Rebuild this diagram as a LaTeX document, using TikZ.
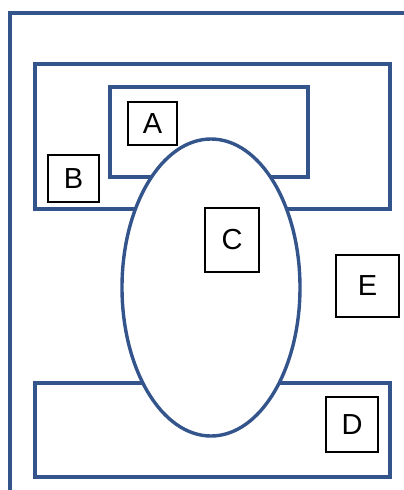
\documentclass[tikz,border=0pt]{standalone}
\usepackage{fontspec}
\setmainfont{Liberation Sans}
\definecolor{frameblue}{RGB}{52,84,140}
\begin{document}
\begin{tikzpicture}[x=1pt,y=-1pt,
  region/.style={draw=frameblue,line width=3.4pt},
  tag/.style={draw=black,line width=1.1pt,fill=white,inner sep=0pt,font=\fontsize{29}{29}\selectfont}]
\useasboundingbox (0,0) rectangle (404,490);
% frame and the three bands
\draw[region] (404,13) -- (10,13) -- (10,490);
\draw[region] (35,64) rectangle (390,209);
\draw[region] (110,87) rectangle (308,177);
\draw[region] (35,383) rectangle (390,477);
\draw[region,fill=white] (211,287.5) ellipse (89pt and 148.5pt);
% labels
\node[tag,minimum width=49pt,minimum height=43pt] (A) at (152.5,123.5) {A};
\node[tag,minimum width=51pt,minimum height=47pt] (B) at (73.5,178.5) {B};
\node[tag,minimum width=54pt,minimum height=64pt] (C) at (232,240) {C};
\node[tag,minimum width=52pt,minimum height=55pt] (D) at (352,424.5) {D};
\node[tag,minimum width=63pt,minimum height=62pt] (E) at (367.5,286) {E};
\end{tikzpicture}
\end{document}
